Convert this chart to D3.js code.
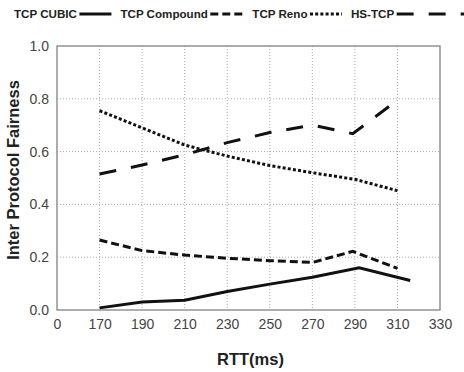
<!DOCTYPE html>
<html><head><meta charset="utf-8">
<script src="https://cdn.jsdelivr.net/npm/d3@7"></script>
<style>body{margin:0;background:#fff}svg{display:block}</style>
</head><body>
<svg id="c" width="464" height="372"></svg>
<script>
const xTicks = [150,170,190,210,230,250,270,290,310,330];
const xTickLabels = ["0","170","190","210","230","250","270","290","310","330"];
const yTicks = [0,0.2,0.4,0.6,0.8,1.0];
const seriesNames = ["TCP CUBIC","TCP Compound","TCP Reno","HS-TCP"];
const cubicX = [170,190,210,230,250,270,292,316];
const cubicY = [0.008,0.030,0.037,0.070,0.098,0.124,0.160,0.112];
const compoundX = [170,190,210,230,250,270,289,310];
const compoundY = [0.265,0.225,0.208,0.196,0.187,0.180,0.222,0.158];
const renoX = [170,190,210,230,250,270,290,310];
const renoY = [0.755,0.690,0.625,0.583,0.547,0.520,0.495,0.452];
const hsX = [170,190,210,230,250,270,289,310];
const hsY = [0.515,0.549,0.588,0.634,0.672,0.700,0.668,0.795];
const dashes = ["", "8,4", "3,2.2", "17,15"];

const svg = d3.select("#c");
const m = {l:57, r:440, t:46, b:310};
const x = d3.scaleLinear().domain([150,330]).range([m.l, m.r]);
const y = d3.scaleLinear().domain([0,1]).range([m.b, m.t]);

// grid
const g = svg.append("g");
g.selectAll("line.vg").data(xTicks.filter(d=>d>150&&d<330)).enter().append("line")
  .attr("x1",d=>x(d)).attr("x2",d=>x(d)).attr("y1",m.t).attr("y2",m.b)
  .attr("stroke","#aaa").attr("stroke-width",1).attr("stroke-dasharray","1,2");
g.selectAll("line.hg").data(yTicks.filter(d=>d>0&&d<1)).enter().append("line")
  .attr("x1",m.l).attr("x2",m.r).attr("y1",d=>y(d)).attr("y2",d=>y(d))
  .attr("stroke","#aaa").attr("stroke-width",1).attr("stroke-dasharray","1,2");

// frame
svg.append("rect").attr("x",m.l).attr("y",m.t).attr("width",m.r-m.l).attr("height",m.b-m.t)
  .attr("fill","none").attr("stroke","#777").attr("stroke-width",1.2);

// axes
const xAxis = d3.axisBottom(x).tickValues(xTicks).tickSize(0).tickPadding(9)
  .tickFormat((d,i)=>xTickLabels[i]);
const xa = svg.append("g").attr("transform",`translate(0,${m.b})`).call(xAxis);
const yAxis = d3.axisLeft(y).tickValues(yTicks).tickSize(0).tickPadding(8).tickFormat(d3.format(".1f"));
const ya = svg.append("g").attr("transform",`translate(${m.l},0)`).call(yAxis);
[xa,ya].forEach(a=>{
  a.select(".domain").remove();
  a.selectAll("text").attr("font-family","Liberation Sans, Arial, sans-serif")
    .attr("font-size","14px").attr("fill","#444");
});

// series
const data = [
  cubicX.map((d,i)=>[d,cubicY[i]]),
  compoundX.map((d,i)=>[d,compoundY[i]]),
  renoX.map((d,i)=>[d,renoY[i]]),
  hsX.map((d,i)=>[d,hsY[i]])
];
const line = d3.line().x(d=>x(d[0])).y(d=>y(d[1]));
data.forEach((s,i)=>{
  svg.append("path").attr("d",line(s)).attr("fill","none").attr("stroke","#111")
    .attr("stroke-width",3).attr("stroke-dasharray",dashes[i]||null);
});

// axis titles
svg.append("text").attr("x",250.5).attr("y",365).attr("text-anchor","middle")
  .attr("font-family","Liberation Sans, Arial, sans-serif").attr("font-weight","bold")
  .attr("font-size","16.5px").attr("fill","#222").text("RTT(ms)");
svg.append("text").attr("transform","translate(19,170) rotate(-90)").attr("text-anchor","middle")
  .attr("font-family","Liberation Sans, Arial, sans-serif").attr("font-weight","bold")
  .attr("font-size","16.5px").attr("fill","#222").text("Inter Protocol Fairness");

// legend
const lineLens = [32,33,32,80];
let lx = 14;
seriesNames.forEach((n,i)=>{
  const t = svg.append("text").attr("x",lx).attr("y",18)
    .attr("font-family","Liberation Sans, Arial, sans-serif").attr("font-weight","bold")
    .attr("font-size","11.6px").attr("fill","#222").text(n);
  const w = t.node().getComputedTextLength();
  const sx = lx + w + 2.5;
  svg.append("line").attr("x1",sx).attr("x2",sx+lineLens[i]).attr("y1",14).attr("y2",14)
    .attr("stroke","#111").attr("stroke-width",3).attr("stroke-dasharray",dashes[i]||null);
  lx = sx + lineLens[i] + 9;
});
</script>
</body></html>
